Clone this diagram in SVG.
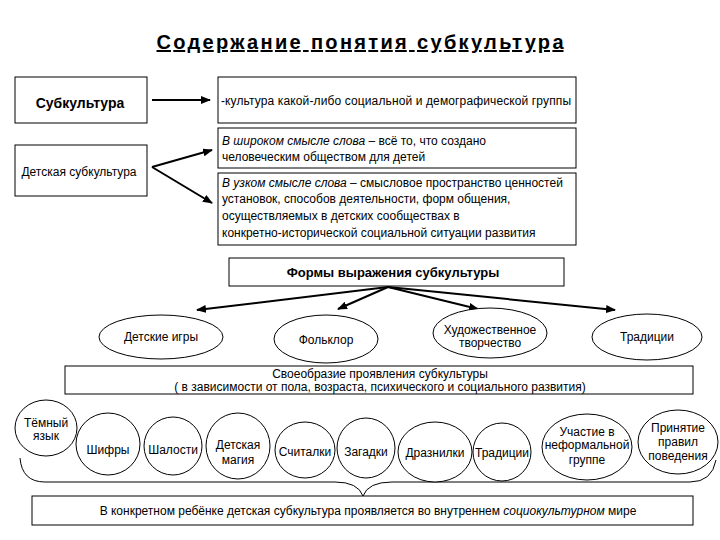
<svg xmlns="http://www.w3.org/2000/svg" width="720" height="540" viewBox="0 0 720 540">
<defs>
<style>
text{font-family:"Liberation Sans",Arial,sans-serif;font-size:12px;fill:#000}
.b{font-weight:bold}
.i{font-style:italic}
.c{text-anchor:middle}
.t{font-size:20px}
.s14{font-size:14px}
.s13{font-size:13px}
.box{fill:#fff;stroke:#000;stroke-width:1}
.el{fill:#fff;stroke:#000;stroke-width:1}
.ar{fill:none;stroke:#000;stroke-width:2;marker-end:url(#ah)}
</style>
<marker id="ah" markerUnits="userSpaceOnUse" markerWidth="10" markerHeight="8" refX="9" refY="4" orient="auto">
<path d="M0,0 L10,4 L0,8 z" fill="#000"/>
</marker>
</defs>
<rect width="720" height="540" fill="#fff"/>
<text id="title" class="b c t" x="360" y="49" textLength="407" lengthAdjust="spacing" text-decoration="underline">Содержание понятия субкультура</text>

<g id="connectors">
<line class="ar" x1="152" y1="100" x2="210" y2="100"/>
<line class="ar" x1="152" y1="167" x2="212" y2="150"/>
<line class="ar" x1="152" y1="167" x2="212" y2="203"/>
<line class="ar" x1="388" y1="287" x2="197" y2="310"/>
<line class="ar" x1="388" y1="287" x2="338" y2="309"/>
<line class="ar" x1="388" y1="287" x2="478" y2="309"/>
<line class="ar" x1="388" y1="287" x2="615" y2="310"/>
<path d="M20,458 Q22,482 45,482 L335,482 Q358,482 363,496 Q368,482 392,482 L690,482 Q712,482 716,460" fill="none" stroke="#000" stroke-width="1"/>
</g>

<g id="n-subculture">
<rect class="box" x="15" y="77" width="132" height="46"/>
<text class="b c s14" x="80" y="108">Субкультура</text>
</g>
<g id="n-def">
<rect class="box" x="218" y="77" width="358" height="46"/>
<text x="221" y="105" textLength="350" lengthAdjust="spacing">-культура какой-либо социальной и демографической группы</text>
</g>
<g id="n-child">
<rect class="box" x="15" y="145" width="132" height="51"/>
<text class="c" x="79" y="176">Детская субкультура</text>
</g>
<g id="n-wide">
<rect class="box" x="218" y="128" width="358" height="40"/>
<text x="222" y="145"><tspan class="i">В широком смысле слова</tspan> – всё то, что создано</text>
<text x="222" y="161">человеческим обществом для детей</text>
</g>
<g id="n-narrow">
<rect class="box" x="218" y="173" width="358" height="72"/>
<text x="222" y="187"><tspan class="i">В узком смысле слова</tspan> – смысловое пространство ценностей</text>
<text x="222" y="203">установок, способов деятельности, форм общения,</text>
<text x="222" y="220">осуществляемых в детских сообществах в</text>
<text x="222" y="237">конкретно-исторической социальной ситуации развития</text>
</g>
<g id="n-forms">
<rect class="box" x="229" y="258" width="335" height="28"/>
<text class="b c s13" x="393" y="277">Формы выражения субкультуры</text>
</g>
<g id="n-games">
<ellipse class="el" cx="161" cy="337" rx="62" ry="22"/>
<text class="c" x="161" y="341">Детские игры</text>
</g>
<g id="n-folk">
<ellipse class="el" cx="326" cy="339" rx="52" ry="24"/>
<text class="c" x="326" y="344">Фольклор</text>
</g>
<g id="n-art">
<ellipse class="el" cx="490" cy="333" rx="57" ry="25"/>
<text class="c" x="490" y="334">Художественное</text>
<text class="c" x="490" y="347">творчество</text>
</g>
<g id="n-trad1">
<ellipse class="el" cx="647" cy="337" rx="55" ry="23"/>
<text class="c" x="647" y="341">Традиции</text>
</g>
<g id="n-unique">
<rect class="box" x="65" y="366" width="628" height="28"/>
<text class="c" x="380" y="378">Своеобразие проявления субкультуры</text>
<text class="c" x="380" y="391">( в зависимости от пола, возраста, психического и социального развития)</text>
</g>
<g id="n-dark">
<ellipse class="el" cx="46" cy="428" rx="31" ry="28"/>
<text class="c" x="46" y="427">Тёмный</text>
<text class="c" x="46" y="440">язык</text>
</g>
<g id="n-cipher">
<ellipse class="el" cx="108" cy="444" rx="32" ry="31"/>
<text class="c" x="108" y="454">Шифры</text>
</g>
<g id="n-pranks">
<ellipse class="el" cx="173" cy="446" rx="29" ry="29"/>
<text class="c" x="173" y="454">Шалости</text>
</g>
<g id="n-magic">
<ellipse class="el" cx="238" cy="446" rx="32" ry="33"/>
<text class="c" x="238" y="449">Детская</text>
<text class="c" x="238" y="464">магия</text>
</g>
<g id="n-count">
<ellipse class="el" cx="305" cy="450" rx="30" ry="28"/>
<text class="c" x="305" y="456">Считалки</text>
</g>
<g id="n-riddle">
<ellipse class="el" cx="366" cy="448" rx="29" ry="30"/>
<text class="c" x="366" y="456">Загадки</text>
</g>
<g id="n-tease">
<ellipse class="el" cx="435" cy="452" rx="37" ry="30"/>
<text class="c" x="435" y="457">Дразнилки</text>
</g>
<g id="n-trad2">
<ellipse class="el" cx="502" cy="452" rx="29" ry="29"/>
<text class="c" x="502" y="457">Традиции</text>
</g>
<g id="n-group">
<ellipse class="el" cx="587" cy="447" rx="45" ry="33"/>
<text class="c" x="587" y="436">Участие в</text>
<text class="c" x="587" y="449">неформальной</text>
<text class="c" x="587" y="464">группе</text>
</g>
<g id="n-rules">
<ellipse class="el" cx="678" cy="442" rx="40" ry="32"/>
<text class="c" x="678" y="432">Принятие</text>
<text class="c" x="678" y="446">правил</text>
<text class="c" x="678" y="460">поведения</text>
</g>
<g id="n-bottom">
<rect class="box" x="32" y="496" width="661" height="29"/>
<text class="c" x="368" y="515">В конкретном ребёнке детская субкультура проявляется во внутреннем <tspan class="i">социокультурном</tspan> мире</text>
</g>
</svg>
